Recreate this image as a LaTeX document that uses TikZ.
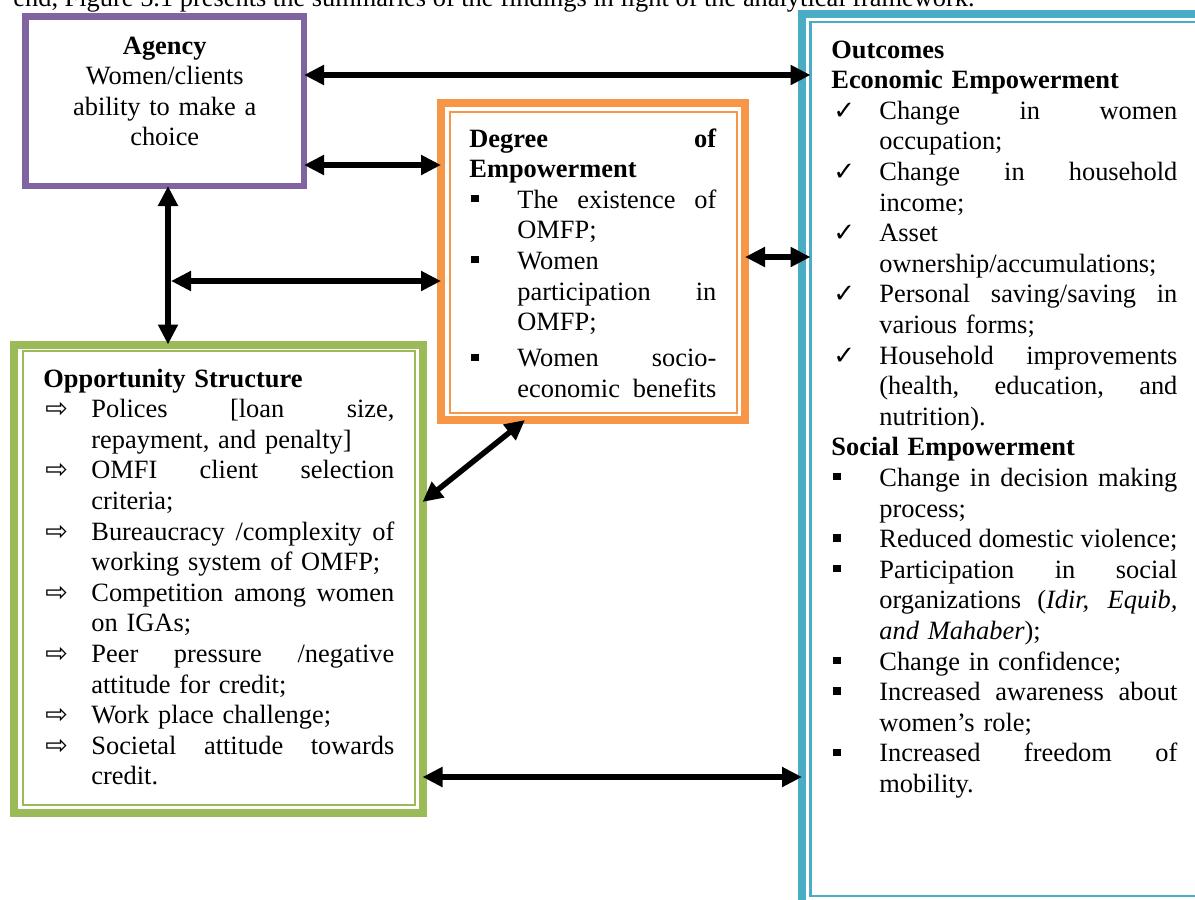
\documentclass[tikz,border=0pt]{standalone}
\usepackage{fontspec}
\setmainfont{Liberation Serif}
\newfontfamily\symfont{DejaVu Sans}
\usetikzlibrary{arrows.meta}
\definecolor{agencycol}{HTML}{8064A2}
\definecolor{degcol}{HTML}{F79646}
\definecolor{oppcol}{HTML}{9BBB59}
\definecolor{outcol}{HTML}{4BACC6}
\newlength{\jw}
\newcommand{\mk}[1]{\makebox[24pt][l]{\hspace*{1pt}#1}}
\newcommand{\jl}[1]{\hbox to\jw{\spaceskip=0.25em plus 1fil minus 0.08em\relax#1}}
\newcommand{\jfull}[1]{\hbox to\dimexpr\jw+24pt\relax{\spaceskip=0.25em plus 1fil\relax#1}}
\newcommand{\hang}{\hspace*{24pt}}
\newcommand{\chk}{\mk{{\symfont\fontsize{13}{13}\selectfont ✓}}}
\newcommand{\sqb}{\mk{\rule[3pt]{3.6pt}{3.6pt}}}
\newcommand{\arw}{\mk{{\symfont\fontsize{13.5}{13.5}\selectfont ⇨}}}
\begin{document}
\begin{tikzpicture}[x=0.5pt,y=-0.5pt,
  txt/.style={inner sep=0pt,anchor=base west,align=left,font=\fontsize{13.2}{15.3}\selectfont},
  thickbox/.style={draw=#1,line width=4pt,inner sep=0pt,outer sep=0pt},
  thinbox/.style={draw=#1,line width=1pt,inner sep=0pt,outer sep=0pt},
  link/.style={line width=2.75pt,{Triangle[length=10pt,width=9.5pt]}-{Triangle[length=10pt,width=9.5pt]}}]
  \useasboundingbox (0,0) rectangle (1195,900);
  \node[txt] (lead) at (13,6) {end, Figure 5.1 presents the summaries of the findings in light of the analytical framework.};
  \node[draw=agencycol,line width=3.25pt,inner sep=0pt,outer sep=0pt,minimum width=139.25pt,minimum height=84.75pt] (agency) at (164.75,101.25) {};
  \node[thickbox=degcol,minimum width=152pt,minimum height=158.5pt] (degree) at (593,261.5) {};
  \node[thinbox=degcol,minimum width=143.5pt,minimum height=150.25pt] (degin) at (593,262.25) {};
  \node[thickbox=oppcol,minimum width=204.25pt,minimum height=234.25pt] (opp) at (218.25,578.75) {};
  \node[thinbox=oppcol,minimum width=196.25pt,minimum height=227pt] (oppin) at (218.75,578) {};
  \node[thickbox=outcol,minimum width=206.5pt,minimum height=446.25pt] (outcomes) at (1008.5,459.75) {};
  \node[thinbox=outcol,line width=1.25pt,minimum width=198pt,minimum height=437pt] (outin) at (1008.5,459) {};

  \node[txt,anchor=base,align=center,text width=139pt] (agencytext) at (164.75,54)
    {\textbf{Agency}\\Women/clients\\ability to make a\\choice};
  \node[txt,text width=123.5pt] (degtext) at (469,147)
    {\setlength{\jw}{99.5pt}%
     \jfull{\textbf{Degree of}}\\
     \textbf{Empowerment}\\
     \sqb\jl{The existence of}\\
     \hang OMFP;\\
     \sqb Women\\
     \hang\jl{participation in}\\
     \hang OMFP;\\[2.75pt]
     \sqb\jl{Women socio-}\\
     \hang\jl{economic benefits}};
  \node[txt,text width=175.5pt] (opptext) at (43,387)
    {\setlength{\jw}{151.5pt}%
     \textbf{Opportunity Structure}\\
     \arw\jl{Polices [loan size,}\\
     \hang repayment, and penalty]\\
     \arw\jl{OMFI client selection}\\
     \hang criteria;\\
     \arw\jl{Bureaucracy /complexity of}\\
     \hang working system of OMFP;\\
     \arw\jl{Competition among women}\\
     \hang on IGAs;\\
     \arw\jl{Peer pressure /negative}\\
     \hang attitude for credit;\\
     \arw Work place challenge;\\
     \arw\jl{Societal attitude towards}\\
     \hang credit.};
  \node[txt,text width=173pt] (outtext) at (831,58)
    {\setlength{\jw}{149pt}%
     \textbf{Outcomes}\\
     \textbf{Economic Empowerment}\\
     \chk\jl{Change in women}\\
     \hang occupation;\\
     \chk\jl{Change in household}\\
     \hang income;\\
     \chk Asset\\
     \hang ownership/accumulations;\\
     \chk\jl{Personal saving/saving in}\\
     \hang various forms;\\
     \chk\jl{Household improvements}\\
     \hang\jl{(health, education, and}\\
     \hang nutrition).\\
     \textbf{Social Empowerment}\\
     \sqb\jl{Change in decision making}\\
     \hang process;\\
     \sqb\jl{Reduced domestic violence;}\\
     \sqb\jl{Participation in social}\\
     \hang\jl{organizations (\textit{Idir, Equib,}}\\
     \hang\textit{and Mahaber});\\
     \sqb Change in confidence;\\
     \sqb\jl{Increased awareness about}\\
     \hang women's role;\\
     \sqb\jl{Increased freedom of}\\
     \hang mobility.};

  \coordinate (vx) at (168,0);
  \coordinate (tee) at (171,281);
  \draw[link] (agency.east |- 0,75) -- (outin.west |- 0,75);
  \draw[link] (agency.east |- 0,165) -- (degree.west |- 0,165);
  \draw[link] (agency.south -| vx) -- (opp.north -| vx);
  \draw[link] (tee) -- (degree.west |- tee);
  \draw[link] (degree.east |- 0,257) -- (outin.west |- 0,257);
  \draw[link] (opp.east |- 0,502) -- (degree.south -| 525,0);
  \draw[link] (opp.east |- 0,777) -- (outcomes.west |- 0,777);
\end{tikzpicture}
\end{document}
